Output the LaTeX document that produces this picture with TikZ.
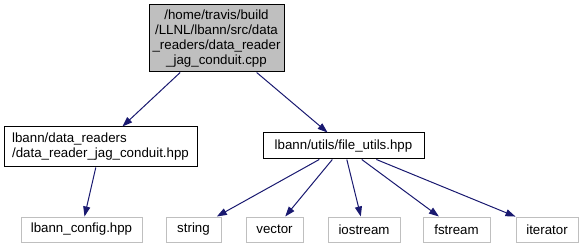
\documentclass[tikz,border=0pt]{standalone}
\usepackage{fontspec}
\setmainfont{Liberation Sans}
\usetikzlibrary{arrows.meta}
\definecolor{edgeblue}{HTML}{191970}
\definecolor{leafgray}{HTML}{BFBFBF}
\definecolor{mainfill}{HTML}{BFBFBF}
\begin{document}
\begin{tikzpicture}[x=1pt,y=-1pt,
  every node/.style={font=\fontsize{13.3}{15}\selectfont, inner sep=0pt, draw, line width=1pt},
  mainbox/.style={fill=mainfill, draw=black, align=center},
  incbox/.style={draw=black},
  leafbox/.style={draw=leafgray},
  dep/.style={draw=edgeblue, line width=1pt, -{Triangle[length=10pt,width=7pt]}}]
\useasboundingbox (0,0) rectangle (583,248);
% files
\node[mainbox, minimum width=135pt, minimum height=67pt] (src) at (216.5,38.5)
  {/home/travis/build\\/LLNL/lbann/src/data\\\_readers/data\_reader\\\_jag\_conduit.cpp};
\node[incbox, align=left, minimum width=193pt, minimum height=40pt] (jag) at (100.5,147)
  {lbann/data\_readers\\/data\_reader\_jag\_conduit.hpp};
\node[incbox, minimum width=161pt, minimum height=26pt] (futil) at (343.5,146) {lbann/utils/file\_utils.hpp};
\node[leafbox, minimum width=121pt, minimum height=25pt] (cfg) at (81.5,229.5) {lbann\_config.hpp};
\node[leafbox, minimum width=55pt, minimum height=25pt] (str) at (193.5,229.5) {string};
\node[leafbox, minimum width=57pt, minimum height=25pt] (vec) at (274.5,229.5) {vector};
\node[leafbox, minimum width=72pt, minimum height=25pt] (ios) at (364,229.5) {iostream};
\node[leafbox, minimum width=67pt, minimum height=25pt] (fst) at (456.5,229.5) {fstream};
\node[leafbox, minimum width=62pt, minimum height=25pt] (itr) at (547,229.5) {iterator};
% include edges
\draw[dep] (src) -- (jag);
\draw[dep] (src) -- (futil);
\draw[dep] (jag) -- (cfg);
\draw[dep] (futil) -- (str);
\draw[dep] (futil) -- (vec);
\draw[dep] (futil) -- (ios);
\draw[dep] (futil) -- (fst);
\draw[dep] (futil) -- (itr);
\end{tikzpicture}
\end{document}
